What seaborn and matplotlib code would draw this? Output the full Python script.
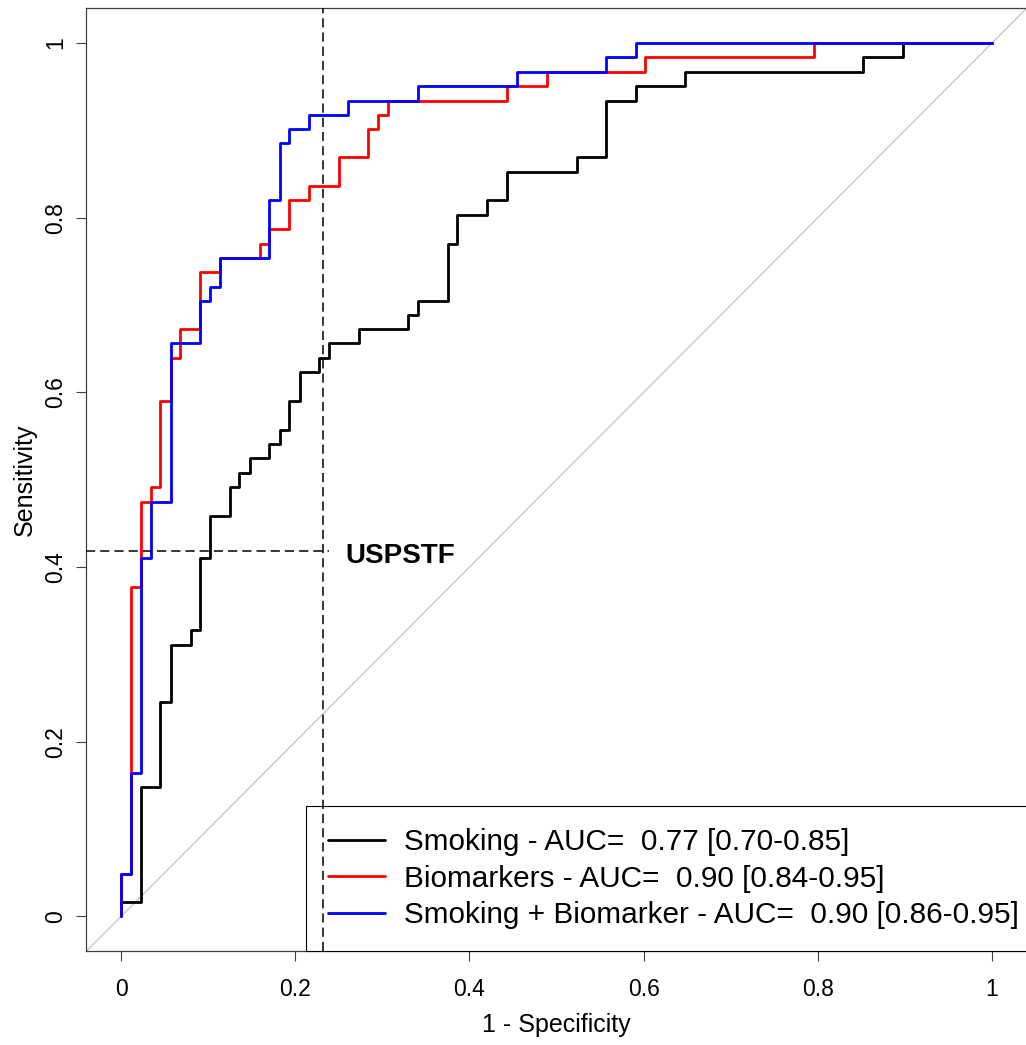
import numpy as np
import pandas as pd
import matplotlib
matplotlib.use("Agg")
import matplotlib.pyplot as plt
import seaborn as sns

# ROC curves. Each point is (1 - specificity, sensitivity)
# just after a vertical jump; drawn as a post step.
smoking_fpr = [0, 0, 0.023, 0.045, 0.057, 0.080, 0.091, 0.102, 0.125, 0.136,
               0.148, 0.170, 0.182, 0.193, 0.205, 0.227, 0.239, 0.273, 0.330,
               0.341, 0.375, 0.386, 0.420, 0.443, 0.523, 0.557, 0.591, 0.648,
               0.852, 0.898, 1.0]
smoking_tpr = [0, 0.016, 0.148, 0.246, 0.311, 0.328, 0.410, 0.459, 0.492, 0.508,
               0.525, 0.541, 0.557, 0.590, 0.623, 0.639, 0.656, 0.672, 0.689,
               0.705, 0.770, 0.803, 0.820, 0.852, 0.869, 0.934, 0.951, 0.967,
               0.984, 1.0, 1.0]

bio_fpr = [0, 0, 0.011, 0.023, 0.034, 0.045, 0.057, 0.068, 0.091, 0.114, 0.159,
           0.170, 0.193, 0.216, 0.250, 0.284, 0.295, 0.307, 0.443, 0.489, 0.602,
           0.795, 1.0]
bio_tpr = [0, 0.049, 0.377, 0.475, 0.492, 0.590, 0.639, 0.672, 0.738, 0.754, 0.770,
           0.787, 0.820, 0.836, 0.869, 0.902, 0.918, 0.934, 0.951, 0.967, 0.984,
           1.0, 1.0]

combo_fpr = [0, 0, 0.011, 0.023, 0.034, 0.057, 0.091, 0.102, 0.114, 0.170, 0.182,
             0.193, 0.216, 0.261, 0.341, 0.455, 0.557, 0.591, 1.0]
combo_tpr = [0, 0.049, 0.164, 0.410, 0.475, 0.656, 0.705, 0.721, 0.754, 0.820, 0.885,
             0.902, 0.918, 0.934, 0.951, 0.967, 0.984, 1.0, 1.0]

labels = ["Smoking - AUC=  0.77 [0.70-0.85]",
          "Biomarkers - AUC=  0.90 [0.84-0.95]",
          "Smoking + Biomarker - AUC=  0.90 [0.86-0.95]"]
colors = ["#000000", "#ff0000", "#0000ff"]

# USPSTF operating point
uspstf_fpr = 0.232
uspstf_tpr = 0.418

tick_vals = [0, 0.2, 0.4, 0.6, 0.8, 1]
tick_text = ["0", "0.2", "0.4", "0.6", "0.8", "1"]

frames = []
for lab, fx, ty in zip(labels, [smoking_fpr, bio_fpr, combo_fpr],
                       [smoking_tpr, bio_tpr, combo_tpr]):
    frames.append(pd.DataFrame({"fpr": fx, "tpr": ty, "model": lab}))
df = pd.concat(frames, ignore_index=True)

sns.set_style("white")
plt.rcParams["font.family"] = ["Liberation Sans", "DejaVu Sans"]
plt.rcParams["text.color"] = "black"
plt.rcParams["axes.labelcolor"] = "black"

fig = plt.figure(figsize=(10.26, 10.45), dpi=100)
ax = fig.add_axes([86.2 / 1026, 1 - 951.4 / 1045, 940.7 / 1026, 943.4 / 1045])

ax.axline((0, 0), slope=1, color="#c8c8c8", lw=1.0, zorder=1)

sns.lineplot(data=df, x="fpr", y="tpr", hue="model", hue_order=labels,
             palette=colors, estimator=None, sort=False,
             drawstyle="steps-post", linewidth=2.0, ax=ax, zorder=3)

ax.set_xlim(-0.04, 1.04)
ax.set_ylim(-0.04, 1.04)

# dashed USPSTF guides
dash = (0, (6, 3.3))
ax.axvline(uspstf_fpr, color="black", lw=1.1, ls=dash, zorder=6)
ax.plot([-0.04, uspstf_fpr + 0.007], [uspstf_tpr, uspstf_tpr],
        color="black", lw=1.1, ls=dash, zorder=6)
ax.text(uspstf_fpr + 0.026, uspstf_tpr - 0.005, "USPSTF", fontsize=20,
        fontweight="bold", ha="left", va="center", color="black")

ax.set_xticks(tick_vals, tick_text)
ax.set_yticks(tick_vals, tick_text, rotation=90, va="center")
ax.tick_params(direction="out", length=7.2, width=0.8, color="#404040",
               labelsize=16.5, labelcolor="black")
ax.tick_params(axis="x", pad=11.9, bottom=True)
ax.tick_params(axis="y", pad=6.5, left=True)

for sp in ax.spines.values():
    sp.set_visible(True)
    sp.set_color("#404040")
    sp.set_linewidth(0.9)

ax.set_xlabel("1 - Specificity", fontsize=18)
ax.set_ylabel("Sensitivity", fontsize=18)
ax.xaxis.set_label_coords(0.5, -0.0656)
ax.yaxis.set_label_coords(-0.0523, 0.5)

sns.move_legend(ax, "lower left", bbox_to_anchor=(0.2332, 0.0), title=None,
                frameon=True, fancybox=False, framealpha=1, edgecolor="black",
                fontsize=21.4, borderpad=0.75, labelspacing=0.28,
                handlelength=1.91, handletextpad=0.66, borderaxespad=0,
                labelcolor="black")
ax.get_legend().get_frame().set_linewidth(0.8)

fig.savefig("out.png", dpi=100)
